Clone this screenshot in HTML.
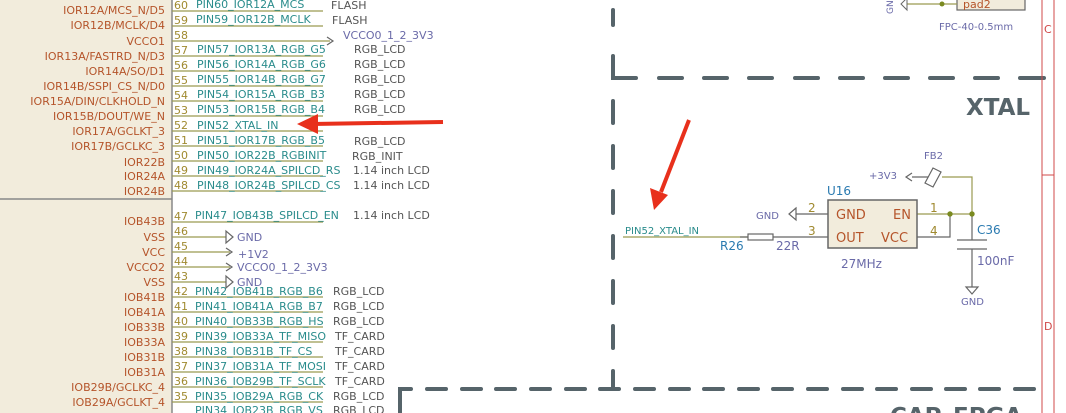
<!DOCTYPE html><html><head><style>body{margin:0;background:#fff}svg{display:block}text{font-family:"DejaVu Sans","Liberation Sans",sans-serif}</style></head><body>
<svg width="1066" height="413" viewBox="0 0 1066 413" xmlns="http://www.w3.org/2000/svg">
<rect x="0" y="0" width="172" height="413" fill="#f2ecdc"/>
<line x1="172" y1="0" x2="172" y2="413" stroke="#888" stroke-width="1.5"/>
<line x1="0" y1="199" x2="172" y2="199" stroke="#888" stroke-width="1.5"/>
<g font-size="11" fill="#b5542a" text-anchor="end">
<text x="165" y="14">IOR12A/MCS_N/D5</text><text x="165" y="29">IOR12B/MCLK/D4</text><text x="165" y="45">VCCO1</text><text x="165" y="60">IOR13A/FASTRD_N/D3</text><text x="165" y="75">IOR14A/SO/D1</text><text x="165" y="90">IOR14B/SSPI_CS_N/D0</text><text x="165" y="105">IOR15A/DIN/CLKHOLD_N</text><text x="165" y="120">IOR15B/DOUT/WE_N</text><text x="165" y="135">IOR17A/GCLKT_3</text><text x="165" y="150">IOR17B/GCLKC_3</text><text x="165" y="166">IOR22B</text><text x="165" y="180">IOR24A</text><text x="165" y="195">IOR24B</text>
<text x="165" y="225">IOB43B</text><text x="165" y="241">VSS</text><text x="165" y="256">VCC</text><text x="165" y="271">VCCO2</text><text x="165" y="286">VSS</text><text x="165" y="301">IOB41B</text><text x="165" y="316">IOB41A</text><text x="165" y="331">IOB33B</text><text x="165" y="346">IOB33A</text><text x="165" y="361">IOB31B</text><text x="165" y="376">IOB31A</text><text x="165" y="391">IOB29B/GCLKC_4</text><text x="165" y="406">IOB29A/GCLKT_4</text>
</g>
<g stroke="#9a9a50" stroke-width="1.3">
<line x1="172" y1="11" x2="323" y2="11"/><line x1="172" y1="26" x2="323" y2="26"/><line x1="172" y1="41" x2="330" y2="41"/><line x1="172" y1="56" x2="323" y2="56"/><line x1="172" y1="71" x2="323" y2="71"/><line x1="172" y1="86" x2="323" y2="86"/><line x1="172" y1="101" x2="323" y2="101"/><line x1="172" y1="116" x2="323" y2="116"/><line x1="172" y1="131" x2="323" y2="131"/><line x1="172" y1="146" x2="323" y2="146"/><line x1="172" y1="161" x2="323" y2="161"/><line x1="172" y1="176" x2="323" y2="176"/><line x1="172" y1="191" x2="323" y2="191"/>
<line x1="172" y1="222" x2="323" y2="222"/><line x1="172" y1="237" x2="226" y2="237"/><line x1="172" y1="252" x2="230" y2="252"/><line x1="172" y1="267" x2="230" y2="267"/><line x1="172" y1="282" x2="226" y2="282"/><line x1="172" y1="297" x2="323" y2="297"/><line x1="172" y1="312" x2="323" y2="312"/><line x1="172" y1="327" x2="323" y2="327"/><line x1="172" y1="342" x2="323" y2="342"/><line x1="172" y1="357" x2="323" y2="357"/><line x1="172" y1="372" x2="323" y2="372"/><line x1="172" y1="387" x2="323" y2="387"/><line x1="172" y1="402" x2="323" y2="402"/>
</g>
<g font-size="11" fill="#a08a30">
<text x="174" y="9">60</text><text x="174" y="24">59</text><text x="174" y="39">58</text><text x="174" y="54">57</text><text x="174" y="69">56</text><text x="174" y="84">55</text><text x="174" y="99">54</text><text x="174" y="114">53</text><text x="174" y="129">52</text><text x="174" y="144">51</text><text x="174" y="159">50</text><text x="174" y="174">49</text><text x="174" y="189">48</text>
<text x="174" y="220">47</text><text x="174" y="235">46</text><text x="174" y="250">45</text><text x="174" y="265">44</text><text x="174" y="280">43</text><text x="174" y="295">42</text><text x="174" y="310">41</text><text x="174" y="325">40</text><text x="174" y="340">39</text><text x="174" y="355">38</text><text x="174" y="370">37</text><text x="174" y="385">36</text><text x="174" y="400">35</text>
</g>
<g font-size="11" fill="#2a8c8c">
<text x="196" y="8">PIN60_IOR12A_MCS</text><text x="196" y="23">PIN59_IOR12B_MCLK</text><text x="197" y="53">PIN57_IOR13A_RGB_G5</text><text x="197" y="68">PIN56_IOR14A_RGB_G6</text><text x="197" y="83">PIN55_IOR14B_RGB_G7</text><text x="197" y="98">PIN54_IOR15A_RGB_B3</text><text x="197" y="113">PIN53_IOR15B_RGB_B4</text><text x="197" y="129">PIN52_XTAL_IN</text><text x="197" y="144">PIN51_IOR17B_RGB_B5</text><text x="197" y="159">PIN50_IOR22B_RGBINIT</text><text x="197" y="174">PIN49_IOR24A_SPILCD_RS</text><text x="197" y="189">PIN48_IOR24B_SPILCD_CS</text>
<text x="195" y="219">PIN47_IOB43B_SPILCD_EN</text><text x="195" y="295">PIN42_IOB41B_RGB_B6</text><text x="195" y="310">PIN41_IOB41A_RGB_B7</text><text x="195" y="325">PIN40_IOB33B_RGB_HS</text><text x="195" y="340">PIN39_IOB33A_TF_MISO</text><text x="195" y="355">PIN38_IOB31B_TF_CS</text><text x="195" y="370">PIN37_IOB31A_TF_MOSI</text><text x="195" y="385">PIN36_IOB29B_TF_SCLK</text><text x="195" y="400">PIN35_IOB29A_RGB_CK</text><text x="195" y="414">PIN34_IOB23B_RGB_VS</text>
</g>
<g font-size="11" fill="#555">
<text x="331" y="9">FLASH</text><text x="332" y="24">FLASH</text><text x="354" y="53">RGB_LCD</text><text x="354" y="68">RGB_LCD</text><text x="354" y="83">RGB_LCD</text><text x="354" y="98">RGB_LCD</text><text x="354" y="113">RGB_LCD</text><text x="354" y="145">RGB_LCD</text><text x="352" y="160">RGB_INIT</text><text x="353" y="174">1.14 inch LCD</text><text x="353" y="189">1.14 inch LCD</text><text x="353" y="219">1.14 inch LCD</text>
<text x="333" y="295">RGB_LCD</text><text x="333" y="310">RGB_LCD</text><text x="333" y="325">RGB_LCD</text><text x="335" y="340">TF_CARD</text><text x="335" y="355">TF_CARD</text><text x="335" y="370">TF_CARD</text><text x="335" y="385">TF_CARD</text><text x="333" y="400">RGB_LCD</text><text x="333" y="414">RGB_LCD</text>
</g>
<g fill="none" stroke="#666" stroke-width="1.2">
<path d="M327 37 L333 41 L327 45"/><path d="M226 231 L226 243 L233 237 Z" fill="#fff"/><path d="M226 248 L232 252 L226 256"/><path d="M226 263 L232 267 L226 271"/><path d="M226 276 L226 288 L233 282 Z" fill="#fff"/>
</g>
<g font-size="11" fill="#6a6aa8">
<text x="343" y="39">VCCO0_1_2_3V3</text><text x="237" y="241">GND</text><text x="238" y="258">+1V2</text><text x="237" y="271">VCCO0_1_2_3V3</text><text x="237" y="286">GND</text>
</g>
<line x1="443" y1="122" x2="312" y2="124" stroke="#e8301c" stroke-width="4"/>
<path d="M297 124 L318 114 L318 134 Z" fill="#e8301c"/>
<line x1="689" y1="120" x2="661" y2="192" stroke="#e8301c" stroke-width="4"/>
<path d="M654 210 L650 188 L668 195 Z" fill="#e8301c"/>
<g stroke="#56646a" stroke-width="4" stroke-linecap="round" fill="none">
<path d="M613 10 V25"/><path d="M613 56 V78 H636"/>
<path d="M659 78 H682 M704 78 H727 M749 78 H772 M795 78 H818 M840 78 H863 M885 78 H908 M930 78 H953 M975 78 H998 M1020 78 H1044"/>
<path d="M613 101 V123 M613 146 V168 M613 191 V213 M613 236 V258 M613 281 V303 M613 326 V348 M613 371 V389"/>
<path d="M400 413 V389 H411 M427 389 H446 M462 389 H481 M496 389 H515 M531 389 H550 M566 389 H585 M600 389 H619 M635 389 H654 M670 389 H689 M704 389 H723 M739 389 H758 M773 389 H792 M808 389 H827 M843 389 H862 M877 389 H896 M912 389 H931 M946 389 H965 M980 389 H999 M1015 389 H1034"/>
</g>
<text x="966" y="115" font-size="23" font-weight="bold" fill="#56646a">XTAL</text>
<text x="890" y="424" font-size="23" font-weight="bold" fill="#56646a">CAP_FPGA</text>
<g stroke="#d04848" stroke-width="1"><line x1="1042" y1="0" x2="1042" y2="413"/><line x1="1054" y1="0" x2="1054" y2="413"/><line x1="1042" y1="175" x2="1054" y2="175"/></g>
<g font-size="11" fill="#d04848"><text x="1044" y="33">C</text><text x="1044" y="330">D</text></g>
<rect x="957" y="-4" width="68" height="14" fill="#f2ecdc" stroke="#666" stroke-width="1.2"/>
<text x="963" y="8" font-size="11" fill="#b5542a">pad2</text>
<line x1="907" y1="4" x2="957" y2="4" stroke="#9a9a50" stroke-width="1.2"/>
<circle cx="942" cy="4" r="2.5" fill="#7a8a20"/>
<path d="M907 -2 L901 4 L907 10 Z" fill="#fff" stroke="#666"/>
<text x="0" y="0" font-size="9" fill="#6a6aa8" transform="translate(893,14) rotate(-90)">GN</text>
<text x="939" y="30" font-size="10" fill="#6a6aa8">FPC-40-0.5mm</text>
<text x="625" y="234" font-size="10" fill="#2a8c8c">PIN52_XTAL_IN</text>
<g stroke="#9a9a50" stroke-width="1.2" fill="none">
<line x1="623" y1="237" x2="748" y2="237"/>
<path d="M972 214 V177 H942"/>
<line x1="917" y1="214" x2="972" y2="214"/>
</g>
<g stroke="#666" stroke-width="1.2" fill="none">
<line x1="740" y1="237" x2="748" y2="237"/><line x1="773" y1="237" x2="828" y2="237"/>
<rect x="748" y="234" width="25" height="6"/>
<line x1="796" y1="214" x2="828" y2="214"/>
<path d="M796 208 L789 214 L796 220 Z" fill="#fff"/>
<path d="M917 237 H950 V214"/>
<path d="M972 214 V240 M957 240 H987 M957 249 H987 M972 249 V287"/>
<path d="M966 287 H978 L972 294 Z" fill="#fff"/>
<path d="M938 177 H912 M912 173 L906 177 L912 181"/>
<path d="M925 183 L933 168 L941 172 L933 187 Z" fill="#fff"/>
</g>
<circle cx="950" cy="214" r="2.7" fill="#7a8a20"/><circle cx="972" cy="214" r="2.7" fill="#7a8a20"/>
<rect x="828" y="200" width="89" height="48" fill="#f2ecdc" stroke="#666" stroke-width="1.5"/>
<g font-size="13" fill="#b5542a"><text x="836" y="219">GND</text><text x="893" y="219">EN</text><text x="836" y="242">OUT</text><text x="881" y="242">VCC</text></g>
<g font-size="12" fill="#a08a30"><text x="808" y="212">2</text><text x="808" y="235">3</text><text x="930" y="212">1</text><text x="930" y="235">4</text></g>
<g font-size="12" fill="#2a7ab0"><text x="827" y="195">U16</text><text x="977" y="234">C36</text><text x="720" y="250">R26</text></g>
<g font-size="12" fill="#6a6aa8"><text x="776" y="250">22R</text><text x="841" y="268">27MHz</text><text x="977" y="265">100nF</text></g>
<g font-size="10" fill="#6a6aa8"><text x="924" y="159">FB2</text><text x="869" y="179">+3V3</text><text x="756" y="219">GND</text><text x="961" y="305">GND</text></g>
</svg>
</body></html>
